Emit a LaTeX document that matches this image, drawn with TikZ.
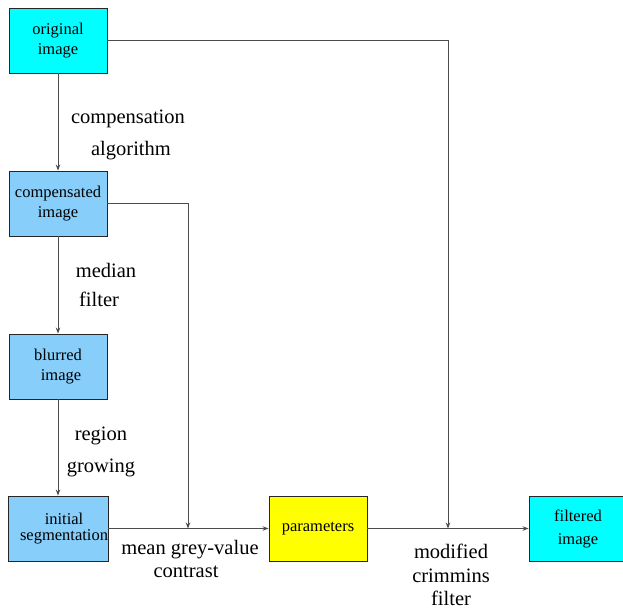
\documentclass[tikz,border=0pt]{standalone}
\usepackage{fontspec}
\setmainfont{Liberation Serif}
\usetikzlibrary{arrows.meta}
\definecolor{cyanbox}{RGB}{0,255,255}
\definecolor{bluebox}{RGB}{135,206,250}
\definecolor{yellowbox}{RGB}{255,255,0}
\begin{document}
\begin{tikzpicture}[x=1pt,y=-1pt,
  box/.style={draw=black!85, line width=0.9pt, minimum width=98pt, minimum height=65pt,
    inner sep=0pt, align=center, font=\fontsize{16.5}{20}\selectfont},
  lbl/.style={font=\fontsize{20.5}{24}\selectfont, anchor=base, inner sep=0pt},
  conn/.style={draw=black!70, line width=0.9pt, -{Stealth[length=6pt,width=4.5pt]}}]
\clip (0,0) rectangle (623,608);
\fill[white] (0,0) rectangle (623,608);
\node[box, fill=cyanbox] (orig) at (58,40.5) {original\\image};
\node[box, fill=bluebox] (comp) at (58,203.5) {compensated\\image};
\node[box, fill=bluebox] (blur) at (58,366.5) {blurred\\\hspace*{6pt}image};
\node[box, fill=bluebox, font=\fontsize{16.5}{16.5}\selectfont] (init) at (58,528.5) {\hspace*{12pt}initial\\\hspace*{12pt}segmentation};
\node[box, fill=yellowbox] (param) at (318,528.5) {parameters};
\node[box, fill=cyanbox, font=\fontsize{16.5}{23}\selectfont] (filt) at (578,528.5) {filtered\\image};
\coordinate (j1) at (188,528.5);
\coordinate (j2) at (448,528.5);
\draw[conn] (orig) -- (comp);
\draw[conn] (comp) -- (blur);
\draw[conn] (blur) -- (init);
\draw[conn] (init) -- (param);
\draw[conn] (param) -- (filt);
\draw[conn] (orig.east) -| (j2);
\draw[conn] (comp.east) -| (j1);
\node[lbl] (l1a) at (128,123) {compensation};
\node[lbl] (l1b) at (131,155) {algorithm};
\node[lbl] (l2a) at (106,277) {median};
\node[lbl] (l2b) at (99,306) {filter};
\node[lbl] (l3a) at (101,440) {region};
\node[lbl] (l3b) at (101,472) {growing};
\node[lbl] (l4a) at (190,554) {mean grey-value};
\node[lbl] (l4b) at (186,577) {contrast};
\node[lbl] (l5a) at (451,558) {modified};
\node[lbl] (l5b) at (451,582) {crimmins};
\node[lbl] (l5c) at (451,605) {filter};
\end{tikzpicture}
\end{document}
